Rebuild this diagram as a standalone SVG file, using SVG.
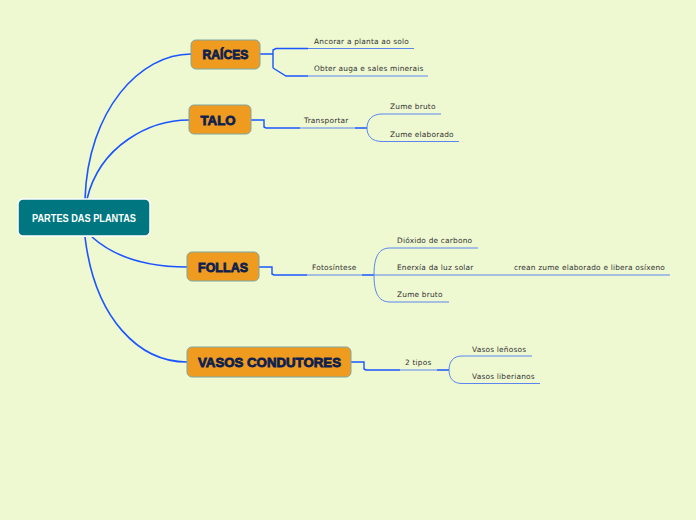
<svg xmlns="http://www.w3.org/2000/svg" width="696" height="520" viewBox="0 0 696 520">
<style>
.main{fill:#ef9b20;stroke:#7fa7a0;stroke-width:1}
.mt{font-family:"Liberation Sans","DejaVu Sans",sans-serif;font-weight:bold;font-size:13px;fill:#0d1f4f;stroke:#0d1f4f;stroke-width:0.8;text-anchor:middle}
.lb{font-family:"DejaVu Sans","Liberation Sans",sans-serif;font-size:7.4px;letter-spacing:0.2px;fill:#333333}
.c{fill:none;stroke:#1a55ff;stroke-width:1.6}
.u{fill:none;stroke:#5b86f0;stroke-width:1}
.ut{fill:none;stroke:#1a55ff;stroke-width:1.4}
</style>
<rect width="696" height="520" fill="#eef8d1"/>
<g id="connectors">
<path class="c" d="M85,199 C88,110 140,54 191,54" stroke-width="2"/>
<path class="c" d="M87,199 C100,145 150,120 189,120" stroke-width="2"/>
<path class="c" d="M92,237 C120,262 160,267 187,267"/>
<path class="c" d="M85,237 C95,320 140,362 187,362" stroke-width="1.8"/>
<path class="ut" d="M260,54 H273 M273,68 V50 L276,48.5 H308 M273,68 L286,76 H308"/>
<path class="u" d="M308,48.5 H414 M308,76 H428"/>
<path class="ut" d="M251,120 H264 V127 L266,128 H300 M355,128 H367"/>
<path class="u" d="M300,128 H355 M367,128 C367,120 372,114 382,114 H441 M367,128 C367,136 372,141.5 382,141.5 H459"/>
<path class="ut" d="M259,267 H272 V274 L274,275 H307 M362,275 H374"/>
<path class="u" d="M307,275 H362 M374,275 H670 M374,275 C374,258 378,248 390,248 H478 M374,275 C374,292 378,302 390,302 H449"/>
<path class="ut" d="M351,362 H364 V369 L366,370 H400 M437,370 H449"/>
<path class="u" d="M400,370 H437 M449,370 C449,362 453,356 462,356 H532 M449,370 C449,378 453,383.5 462,383.5 H540"/>
</g>
<g id="central">
<rect x="18" y="199" width="132" height="37" rx="5" fill="#007780" stroke="#ffffff" stroke-width="1.5"/>
<text x="84" y="222" font-family="Liberation Sans,DejaVu Sans,sans-serif" font-weight="bold" font-size="10.5" fill="#ffffff" text-anchor="middle" textLength="104" lengthAdjust="spacingAndGlyphs">PARTES DAS PLANTAS</text>
</g>
<g id="raices">
<rect class="main" x="191" y="40" width="69" height="29" rx="5"/>
<text class="mt" x="225.5" y="59" textLength="46" lengthAdjust="spacingAndGlyphs">RAÍCES</text>
</g>
<g id="talo">
<rect class="main" x="189" y="105" width="62" height="29" rx="5"/>
<text class="mt" x="218" y="125" textLength="35" lengthAdjust="spacingAndGlyphs">TALO</text>
</g>
<g id="follas">
<rect class="main" x="187" y="252" width="72" height="29" rx="5"/>
<text class="mt" x="223" y="272" textLength="50" lengthAdjust="spacingAndGlyphs">FOLLAS</text>
</g>
<g id="vasos">
<rect class="main" x="187" y="347" width="164" height="30" rx="5"/>
<text class="mt" x="269.5" y="367" textLength="143" lengthAdjust="spacingAndGlyphs">VASOS CONDUTORES</text>
</g>
<g id="labels">
<text class="lb" x="314" y="44">Ancorar a planta ao solo</text>
<text class="lb" x="314" y="71">Obter auga e sales minerais</text>
<text class="lb" x="304" y="123">Transportar</text>
<text class="lb" x="390" y="109">Zume bruto</text>
<text class="lb" x="390" y="137">Zume elaborado</text>
<text class="lb" x="312" y="270">Fotosíntese</text>
<text class="lb" x="397" y="243">Dióxido de carbono</text>
<text class="lb" x="397" y="270">Enerxía da luz solar</text>
<text class="lb" x="514" y="270">crean zume elaborado e libera osíxeno</text>
<text class="lb" x="397" y="297">Zume bruto</text>
<text class="lb" x="405" y="365">2 tipos</text>
<text class="lb" x="472" y="352">Vasos leñosos</text>
<text class="lb" x="472" y="379">Vasos liberianos</text>
</g>
</svg>
